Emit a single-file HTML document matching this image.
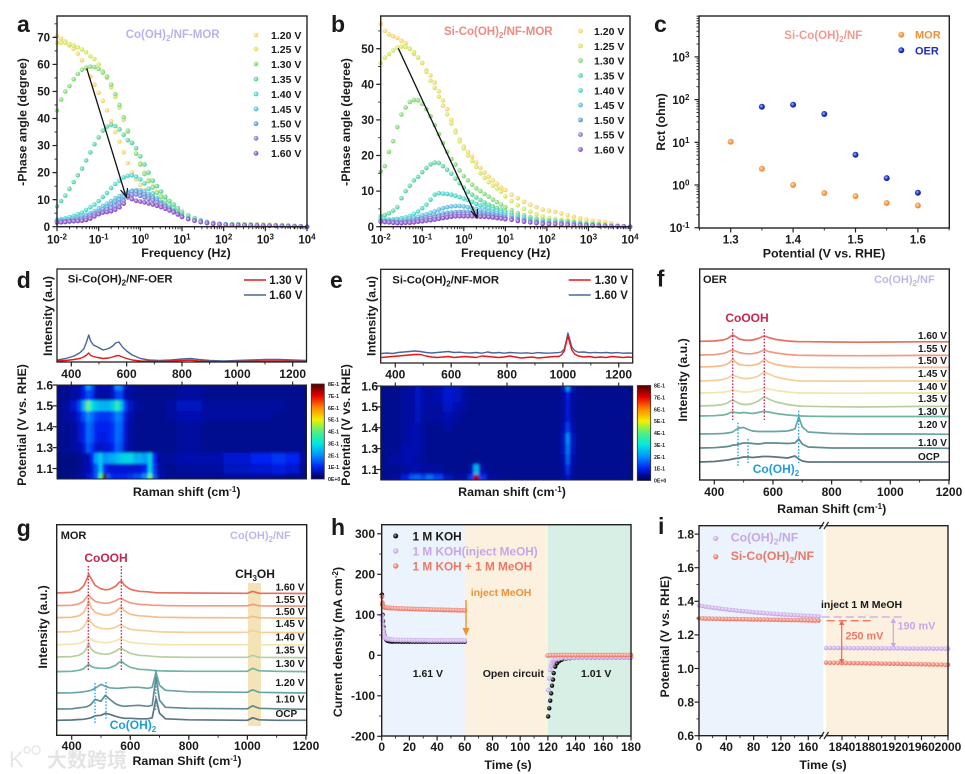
<!DOCTYPE html>
<html lang="en">
<head>
<meta charset="utf-8">
<title>Electrochemical characterisation panels</title>
<style>
html,body{margin:0;padding:0;background:#fff;}
svg{display:block;font-family:"Liberation Sans","Noto Sans CJK SC",sans-serif;font-weight:bold;filter:blur(0.35px);}
text{fill:#1a1a1a;}
</style>
</head>
<body>
<svg xmlns="http://www.w3.org/2000/svg" width="965" height="774" viewBox="0 0 965 774">
<defs>
<radialGradient id="s0" cx=".4" cy=".4" r=".6"><stop offset="0" stop-color="#fff8dc"/><stop offset=".75" stop-color="#f5d36e"/></radialGradient>
<radialGradient id="s1" cx=".4" cy=".4" r=".6"><stop offset="0" stop-color="#f6fbcf"/><stop offset=".75" stop-color="#d3e565"/></radialGradient>
<radialGradient id="s2" cx=".4" cy=".4" r=".6"><stop offset="0" stop-color="#dcf8d8"/><stop offset=".75" stop-color="#86d878"/></radialGradient>
<radialGradient id="s3" cx=".4" cy=".4" r=".6"><stop offset="0" stop-color="#d4f6e6"/><stop offset=".75" stop-color="#5cd2a0"/></radialGradient>
<radialGradient id="s4" cx=".4" cy=".4" r=".6"><stop offset="0" stop-color="#d2f8f2"/><stop offset=".75" stop-color="#48d4c6"/></radialGradient>
<radialGradient id="s5" cx=".4" cy=".4" r=".6"><stop offset="0" stop-color="#d2f0f8"/><stop offset=".75" stop-color="#58bedc"/></radialGradient>
<radialGradient id="s6" cx=".4" cy=".4" r=".6"><stop offset="0" stop-color="#d2e4f6"/><stop offset=".75" stop-color="#5a98d6"/></radialGradient>
<radialGradient id="s7" cx=".4" cy=".4" r=".6"><stop offset="0" stop-color="#dcdcf6"/><stop offset=".75" stop-color="#7a7cd0"/></radialGradient>
<radialGradient id="s8" cx=".4" cy=".4" r=".6"><stop offset="0" stop-color="#e2d0f6"/><stop offset=".75" stop-color="#8850c8"/></radialGradient>
<radialGradient id="orangeDot" cx=".4" cy=".4" r=".6"><stop offset="0" stop-color="#ffe0b8"/><stop offset=".7" stop-color="#f0913a"/></radialGradient>
<radialGradient id="blueDot" cx=".4" cy=".4" r=".6"><stop offset="0" stop-color="#a8b4f8"/><stop offset=".65" stop-color="#1428b8"/></radialGradient>
<radialGradient id="blackDot" cx=".4" cy=".4" r=".6"><stop offset="0" stop-color="#aaaaaa"/><stop offset=".65" stop-color="#0c0c0c"/></radialGradient>
<radialGradient id="lilacDot" cx=".4" cy=".4" r=".6"><stop offset="0" stop-color="#f4ecfc"/><stop offset=".75" stop-color="#c8a6e8"/></radialGradient>
<radialGradient id="redDot" cx=".4" cy=".4" r=".6"><stop offset="0" stop-color="#fde0da"/><stop offset=".75" stop-color="#ee7868"/></radialGradient>
<clipPath id="clip-d"><rect x="57.5" y="385" width="249" height="94"/></clipPath>
<clipPath id="clip-e"><rect x="381" y="386" width="251.5" height="94"/></clipPath>
<filter id="soft" filterUnits="userSpaceOnUse" x="0" y="0" width="965" height="774"><feGaussianBlur stdDeviation="1.4"/></filter>
</defs>

<!-- panel a -->
<g>
<g id="marks-a"></g>
<g id="axes-a"></g>
<rect x="57" y="16" width="250" height="210.7" fill="none" stroke="#222" stroke-width="1.4"/>
<line x1="86.7" y1="68.3" x2="126" y2="196.7" stroke="#111" stroke-width="1.3"/>
<polyline points="120.5,190 126.5,197 127.5,188" fill="none" stroke="#111" stroke-width="1.1"/>
<text x="17" y="32" font-size="23">a</text>
<text x="125.7" y="38" font-size="11.5" style="fill:#b9b4e8">Co(OH)<tspan dy="3" font-size="8">2</tspan><tspan dy="-3">/NF-MOR</tspan></text>
<text x="186" y="257" font-size="12.4" text-anchor="middle">Frequency (Hz)</text>
<text transform="translate(26.5,122) rotate(-90)" font-size="12.3" text-anchor="middle">-Phase angle (degree)</text>
<g font-size="10.5">
<circle cx="256" cy="35" r="2.4" fill="url(#s0)"/><text x="271" y="38.8">1.20 V</text>
<circle cx="256" cy="49" r="2.4" fill="url(#s1)"/><text x="271" y="52.8">1.25 V</text>
<circle cx="256" cy="64" r="2.4" fill="url(#s2)"/><text x="271" y="67.8">1.30 V</text>
<circle cx="256" cy="79" r="2.4" fill="url(#s3)"/><text x="271" y="82.8">1.35 V</text>
<circle cx="256" cy="94" r="2.4" fill="url(#s4)"/><text x="271" y="97.8">1.40 V</text>
<circle cx="256" cy="109" r="2.4" fill="url(#s5)"/><text x="271" y="112.8">1.45 V</text>
<circle cx="256" cy="123.7" r="2.4" fill="url(#s6)"/><text x="271" y="127.5">1.50 V</text>
<circle cx="256" cy="138.3" r="2.4" fill="url(#s7)"/><text x="271" y="142.1">1.55 V</text>
<circle cx="256" cy="153.3" r="2.4" fill="url(#s8)"/><text x="271" y="157.1">1.60 V</text>
</g>
</g>

<!-- panel b -->
<g>
<g id="marks-b"></g>
<g id="axes-b"></g>
<rect x="380.7" y="16" width="249.3" height="210.7" fill="none" stroke="#222" stroke-width="1.4"/>
<line x1="398.3" y1="48.3" x2="476.7" y2="217.3" stroke="#111" stroke-width="1.3"/>
<polyline points="471,211 477,218 477.5,209" fill="none" stroke="#111" stroke-width="1.1"/>
<text x="331" y="32" font-size="23">b</text>
<text x="444" y="35" font-size="11.5" style="fill:#f08a80">Si-Co(OH)<tspan dy="3" font-size="8">2</tspan><tspan dy="-3">/NF-MOR</tspan></text>
<text x="505.7" y="257" font-size="12.4" text-anchor="middle">Frequency (Hz)</text>
<text transform="translate(350,122) rotate(-90)" font-size="12.3" text-anchor="middle">-Phase angle (degree)</text>
<g font-size="10.5">
<circle cx="580.5" cy="31" r="2.4" fill="url(#s0)"/><text x="594" y="34.8">1.20 V</text>
<circle cx="580.5" cy="46" r="2.4" fill="url(#s1)"/><text x="594" y="49.8">1.25 V</text>
<circle cx="580.5" cy="60.5" r="2.4" fill="url(#s2)"/><text x="594" y="64.3">1.30 V</text>
<circle cx="580.5" cy="75.5" r="2.4" fill="url(#s3)"/><text x="594" y="79.3">1.35 V</text>
<circle cx="580.5" cy="90.5" r="2.4" fill="url(#s4)"/><text x="594" y="94.3">1.40 V</text>
<circle cx="580.5" cy="105" r="2.4" fill="url(#s5)"/><text x="594" y="108.8">1.45 V</text>
<circle cx="580.5" cy="120" r="2.4" fill="url(#s6)"/><text x="594" y="123.8">1.50 V</text>
<circle cx="580.5" cy="134.5" r="2.4" fill="url(#s7)"/><text x="594" y="138.3">1.55 V</text>
<circle cx="580.5" cy="149.5" r="2.4" fill="url(#s8)"/><text x="594" y="153.3">1.60 V</text>
</g>
</g>

<!-- panel c -->
<g>
<g id="marks-c"></g>
<g id="axes-c"></g>
<rect x="699" y="16" width="250.3" height="212" fill="none" stroke="#222" stroke-width="1.4"/>
<text x="654" y="32" font-size="23">c</text>
<text x="784.3" y="39" font-size="11.5" style="fill:#f09a90">Si-Co(OH)<tspan dy="3" font-size="8">2</tspan><tspan dy="-3">/NF</tspan></text>
<circle cx="901.3" cy="34.7" r="3" fill="url(#orangeDot)"/>
<text x="915" y="38.7" font-size="11" style="fill:#f0913a">MOR</text>
<circle cx="901.3" cy="50.3" r="3" fill="url(#blueDot)"/>
<text x="915" y="54.3" font-size="11" style="fill:#1a2eb8">OER</text>
<text x="824" y="257.5" font-size="12.4" text-anchor="middle">Potential (V vs. RHE)</text>
<text transform="translate(665,122) rotate(-90)" font-size="12.3" text-anchor="middle">Rct (ohm)</text>
</g>

<!-- panel d -->
<g>
<g id="marks-d"></g>
<g id="axes-d"></g>
<rect x="57" y="269" width="249.5" height="93" fill="none" stroke="#222" stroke-width="1.3"/>
<g clip-path="url(#clip-d)">
<rect x="57" y="385" width="250" height="95" fill="#000a8f"/>
<g id="heat-d" filter="url(#soft)"></g>
</g>
<rect x="57" y="385" width="249.5" height="94" fill="none" stroke="#222" stroke-width="1"/>
<g id="bar-d"></g>
<text x="16.7" y="288" font-size="23">d</text>
<text x="67.7" y="282.7" font-size="11.3">Si-Co(OH)<tspan dy="3" font-size="8">2</tspan><tspan dy="-3">/NF-OER</tspan></text>
<line x1="244" y1="280" x2="266" y2="280" stroke="#dd1c1c" stroke-width="1.6"/>
<text x="269.3" y="284" font-size="11.5">1.30 V</text>
<line x1="244" y1="295" x2="266" y2="295" stroke="#48689a" stroke-width="1.6"/>
<text x="269.3" y="299" font-size="11.5">1.60 V</text>
<text x="186.7" y="496" font-size="12.4" text-anchor="middle">Raman shift (cm<tspan dy="-4" font-size="8">-1</tspan><tspan dy="4">)</tspan></text>
<text transform="translate(52,316) rotate(-90)" font-size="12.3" text-anchor="middle">Intensity (a.u)</text>
<text transform="translate(26,425) rotate(-90)" font-size="12.3" text-anchor="middle">Potential (V vs. RHE)</text>
</g>

<!-- panel e -->
<g>
<g id="marks-e"></g>
<g id="axes-e"></g>
<rect x="380.7" y="269.3" width="252" height="93.7" fill="none" stroke="#222" stroke-width="1.3"/>
<g clip-path="url(#clip-e)">
<rect x="380" y="386" width="253" height="95" fill="#000a8f"/>
<g id="heat-e" filter="url(#soft)"></g>
</g>
<rect x="380.7" y="386" width="252" height="94" fill="none" stroke="#222" stroke-width="1"/>
<g id="bar-e"></g>
<text x="330" y="288" font-size="23">e</text>
<text x="392.3" y="283.3" font-size="11.3">Si-Co(OH)<tspan dy="3" font-size="8">2</tspan><tspan dy="-3">/NF-MOR</tspan></text>
<line x1="568.7" y1="280" x2="590.7" y2="280" stroke="#e8141c" stroke-width="1.6"/>
<text x="594.7" y="284" font-size="11.5">1.30 V</text>
<line x1="568.7" y1="295" x2="590.7" y2="295" stroke="#48689a" stroke-width="1.6"/>
<text x="594.7" y="299" font-size="11.5">1.60 V</text>
<text x="512" y="496" font-size="12.4" text-anchor="middle">Raman shift (cm<tspan dy="-4" font-size="8">-1</tspan><tspan dy="4">)</tspan></text>
<text transform="translate(375.5,316) rotate(-90)" font-size="12.3" text-anchor="middle">Intensity (a.u)</text>
<text transform="translate(350,425) rotate(-90)" font-size="12.3" text-anchor="middle">Potential (V vs. RHE)</text>
</g>

<!-- panel f -->
<g>
<g id="marks-f"></g>
<g id="axes-f"></g>
<rect x="699.7" y="269" width="249.6" height="211" fill="none" stroke="#222" stroke-width="1.4"/>
<g stroke-dasharray="1.6 1.6" stroke-width="1.3" fill="none">
<line x1="732.7" y1="329" x2="732.7" y2="420" stroke="#c8264e"/>
<line x1="764.3" y1="329" x2="764.3" y2="420" stroke="#c8264e"/>
<line x1="738" y1="422.7" x2="738" y2="467" stroke="#1e9fd8"/>
<line x1="748" y1="439" x2="748" y2="463" stroke="#1e9fd8"/>
<line x1="798.7" y1="410.7" x2="798.7" y2="463" stroke="#1e9fd8"/>
</g>
<text x="656.7" y="286.7" font-size="23">f</text>
<text x="703" y="283" font-size="11">OER</text>
<text x="874" y="283" font-size="11" style="fill:#bcb8e8">Co(OH)<tspan dy="3" font-size="8">2</tspan><tspan dy="-3">/NF</tspan></text>
<text x="747" y="322" font-size="12" text-anchor="middle" style="fill:#c8264e">CoOOH</text>
<text x="776" y="473" font-size="12" text-anchor="middle" style="fill:#1e9fd8">Co(OH)<tspan dy="3" font-size="8">2</tspan></text>
<g font-size="10">
<text x="918" y="339">1.60 V</text>
<text x="918" y="352">1.55 V</text>
<text x="918" y="364">1.50 V</text>
<text x="918" y="377">1.45 V</text>
<text x="918" y="390">1.40 V</text>
<text x="918" y="402">1.35 V</text>
<text x="918" y="415">1.30 V</text>
<text x="918" y="428">1.20 V</text>
<text x="918" y="446">1.10 V</text>
<text x="918" y="460">OCP</text>
</g>
<text x="831.7" y="513" font-size="12.4" text-anchor="middle">Raman Shift (cm<tspan dy="-4" font-size="8">-1</tspan><tspan dy="4">)</tspan></text>
<text transform="translate(687,380) rotate(-90)" font-size="12.3" text-anchor="middle">Intensity (a.u.)</text>
</g>

<!-- panel g -->
<g>
<rect x="248" y="583" width="13" height="143" fill="#f5e3b8"/>
<g id="marks-g"></g>
<g id="axes-g"></g>
<rect x="56.7" y="524.7" width="250" height="210.6" fill="none" stroke="#222" stroke-width="1.4"/>
<g stroke-dasharray="1.6 1.6" stroke-width="1.3" fill="none">
<line x1="88.3" y1="566" x2="88.3" y2="671" stroke="#c8264e"/>
<line x1="121.3" y1="566" x2="121.3" y2="671" stroke="#c8264e"/>
<line x1="95" y1="683" x2="95" y2="723" stroke="#1e9fd8"/>
<line x1="106" y1="682" x2="106" y2="720" stroke="#1e9fd8"/>
<line x1="155.7" y1="670" x2="155.7" y2="710" stroke="#1e9fd8"/>
</g>
<text x="16.7" y="536" font-size="23">g</text>
<text x="60.7" y="539" font-size="11">MOR</text>
<text x="230" y="539" font-size="11" style="fill:#bcb8e8">Co(OH)<tspan dy="3" font-size="8">2</tspan><tspan dy="-3">/NF</tspan></text>
<text x="106" y="562" font-size="12" text-anchor="middle" style="fill:#c8264e">CoOOH</text>
<text x="255" y="578" font-size="12" text-anchor="middle">CH<tspan dy="3" font-size="8">3</tspan><tspan dy="-3">OH</tspan></text>
<text x="133" y="729" font-size="12" text-anchor="middle" style="fill:#1e9fd8">Co(OH)<tspan dy="3" font-size="8">2</tspan></text>
<g font-size="10">
<text x="275.5" y="590.5">1.60 V</text>
<text x="275.5" y="603">1.55 V</text>
<text x="275.5" y="615">1.50 V</text>
<text x="275.5" y="627">1.45 V</text>
<text x="275.5" y="640.5">1.40 V</text>
<text x="275.5" y="653.5">1.35 V</text>
<text x="275.5" y="667">1.30 V</text>
<text x="275.5" y="686">1.20 V</text>
<text x="275.5" y="702.5">1.10 V</text>
<text x="275.5" y="717">OCP</text>
</g>
<text x="187" y="765" font-size="12.4" text-anchor="middle">Raman Shift (cm<tspan dy="-4" font-size="8">-1</tspan><tspan dy="4">)</tspan></text>
<text transform="translate(47,627) rotate(-90)" font-size="12.3" text-anchor="middle">Intensity (a.u.)</text>
</g>

<!-- panel h -->
<g>
<rect x="381.7" y="524.7" width="83.1" height="211.3" fill="#ebf4fc"/>
<rect x="464.8" y="524.7" width="83.1" height="211.3" fill="#fbf1de"/>
<rect x="547.9" y="524.7" width="83.1" height="211.3" fill="#d8efe5"/>
<g id="marks-h"></g>
<g id="axes-h"></g>
<rect x="381.7" y="524.7" width="249.3" height="211.3" fill="none" stroke="#222" stroke-width="1.4"/>
<text x="331" y="535" font-size="23">h</text>
<circle cx="395.7" cy="536" r="2.5" fill="url(#blackDot)"/>
<text x="412.5" y="540.5" font-size="11.8">1 M KOH</text>
<circle cx="395.7" cy="551" r="2.7" fill="url(#lilacDot)"/>
<text x="412.5" y="555.5" font-size="11.8" style="fill:#c8a6e8">1 M KOH(inject MeOH)</text>
<circle cx="395.7" cy="566" r="2.7" fill="url(#redDot)"/>
<text x="412.5" y="570.5" font-size="11.8" style="fill:#ee7868">1 M KOH + 1 M MeOH</text>
<text x="470.7" y="596" font-size="10.5" style="fill:#f0913a">inject MeOH</text>
<line x1="466" y1="600" x2="466" y2="630" stroke="#f0913a" stroke-width="1.4"/>
<polygon points="462.5,628 469.5,628 466,636" fill="#f0913a"/>
<text x="412.7" y="677" font-size="10.5">1.61 V</text>
<text x="482.7" y="677" font-size="10.5">Open circuit</text>
<text x="581" y="677" font-size="10.5">1.01 V</text>
<text x="508" y="769" font-size="12.4" text-anchor="middle">Time (s)</text>
<text transform="translate(342,642) rotate(-90)" font-size="12.3" text-anchor="middle">Current density (mA cm<tspan dy="-4" font-size="8">-2</tspan><tspan dy="4">)</tspan></text>
</g>

<!-- panel i -->
<g>
<rect x="699" y="525.7" width="124.3" height="210" fill="#ebf4fc"/>
<rect x="826" y="525.7" width="122" height="210" fill="#fbf1de"/>
<g id="marks-i"></g>
<g id="axes-i"></g>
<polyline points="823.3,525.7 699,525.7 699,735.7 823.3,735.7" fill="none" stroke="#222" stroke-width="1.4"/>
<polyline points="826,525.7 948,525.7 948,735.7 826,735.7" fill="none" stroke="#222" stroke-width="1.4"/>
<g stroke="#222" stroke-width="1.2">
<line x1="819.5" y1="529" x2="824" y2="522"/>
<line x1="824" y1="529" x2="828.5" y2="522"/>
<line x1="819.5" y1="739" x2="824" y2="732"/>
<line x1="824" y1="739" x2="828.5" y2="732"/>
</g>
<text x="658" y="534" font-size="23">i</text>
<circle cx="715.7" cy="538.3" r="2.6" fill="url(#lilacDot)"/>
<text x="730.7" y="541.7" font-size="12.3" style="fill:#c8a6e8">Co(OH)<tspan dy="3" font-size="8.5">2</tspan><tspan dy="-3">/NF</tspan></text>
<circle cx="715.7" cy="556.7" r="2.6" fill="url(#redDot)"/>
<text x="730.7" y="560" font-size="12.3" style="fill:#ee7868">Si-Co(OH)<tspan dy="3" font-size="8.5">2</tspan><tspan dy="-3">/NF</tspan></text>
<text x="821" y="608" font-size="10.5">inject 1 M MeOH</text>
<line x1="821.7" y1="617" x2="905" y2="617" stroke="#c8a6e8" stroke-width="1.3" stroke-dasharray="8 4"/>
<line x1="826.7" y1="620.7" x2="873.3" y2="620.7" stroke="#ee7868" stroke-width="1.3" stroke-dasharray="8 4"/>
<line x1="841.7" y1="622" x2="841.7" y2="662" stroke="#ee6858" stroke-width="1.2"/>
<polygon points="839,625 844.4,625 841.7,620" fill="#ee6858"/>
<polygon points="839,659 844.4,659 841.7,664" fill="#ee6858"/>
<line x1="893.3" y1="619" x2="893.3" y2="646" stroke="#c8a6e8" stroke-width="1.2"/>
<polygon points="890.6,623 896,623 893.3,618" fill="#c8a6e8"/>
<polygon points="890.6,643 896,643 893.3,648" fill="#c8a6e8"/>
<text x="845.5" y="639.5" font-size="10.8" style="fill:#ee7868">250 mV</text>
<text x="897.5" y="629.5" font-size="10.8" style="fill:#c8a6e8">190 mV</text>
<text x="823" y="769" font-size="12.4" text-anchor="middle">Time (s)</text>
<text transform="translate(669,636.7) rotate(-90)" font-size="12.3" text-anchor="middle">Potential (V vs. RHE)</text>
</g>

<!-- watermark -->
<g opacity=".85">
<text x="9" y="767" font-size="22" font-weight="normal" style="fill:#e2e2e2">K</text>
<circle cx="27" cy="750" r="3" fill="none" stroke="#e2e2e2" stroke-width="1.4"/>
<circle cx="36" cy="750" r="4" fill="none" stroke="#e2e2e2" stroke-width="1.4"/>
<text x="47" y="767" font-size="20" style="fill:#e0e0e0">大数跨境</text>
</g>
</svg>

<script>
/* ---------- panel a / b : shared frequency grid (log10 Hz) ---------- */
const logFreq = [-2,-1.9,-1.8,-1.7,-1.6,-1.5,-1.4,-1.3,-1.2,-1.1,-1,-0.9,-0.8,-0.7,-0.6,-0.5,-0.4,-0.3,-0.2,-0.1,0,0.1,0.2,0.3,0.4,0.5,0.6,0.7,0.8,0.9,1,1.15,1.3,1.45,1.6,1.75,1.9,2.05,2.2,2.35,2.5,2.65,2.8,2.95,3.1,3.25,3.4,3.55,3.7,3.85,4];
const voltageNames = ['120','125','130','135','140','145','150','155','160'];
const a120 = [70.5,69.5,68.5,67,65.8,64,61.5,58.5,55.5,52.5,49.5,46.5,43,39,35,31.5,27.5,23.5,20,17.5,15.5,13.5,12.2,11,10,9,8,7,6,5.2,4.4,3.5,2.7,2.1,1.6,1.3,1,.9,.9,.9,.9,.8,.8,.8,.7,.7,.6,.5,.3,.1,0];
const a125 = [68,68,68,67.5,67,66.3,65.5,64.5,63,62,60,57.5,55,51.5,48,44,39.5,35,31,27,23.5,20,17.3,15,13,11.3,10,8.7,7.5,6.2,5,3.8,3,2.2,1.7,1.3,1,.9,.9,.9,.8,.8,.8,.7,.7,.6,.6,.5,.3,.1,0];
const a130 = [43,47,50,52,54.5,56.5,58,58.8,59.2,59,58.3,57,55.5,52.5,49,45,40.5,35.5,31,27,23,19.5,16.8,14.5,12.5,11,9.6,8.2,7,5.8,4.8,3.7,2.9,2.2,1.6,1.3,1,.9,.9,.9,.8,.8,.7,.6,.6,.5,.5,.4,.3,.1,0];
const a135 = [7.5,9.5,11.5,14,16.5,19,21.5,24.5,27.5,30.5,33,35.5,37,37.7,37.2,36,34,32,31,29,26,23,20,17,15,13,11,9.5,8.2,6.8,5.5,4.2,3.2,2.4,1.8,1.4,1.1,.9,.8,.8,.7,.7,.6,.6,.5,.5,.4,.3,.2,.1,0];
const a140 = [2.6,2.8,3.1,3.5,4,4.6,5.2,6.2,7.2,8.2,9.5,11,12.5,14.3,15.8,17,18.2,18.8,19,18.5,17.5,16,14,12.3,10.5,9.2,8,7,6,5,4,3.2,2.5,2,1.5,1.2,1,.9,.8,.8,.7,.7,.6,.5,.5,.4,.3,.3,.2,.1,0];
const a145 = [2.2,2.3,2.5,2.7,3,3.4,3.8,4.4,5,5.8,6.8,7.7,8.5,9.5,10.5,11.3,12.2,12.9,13.3,13.5,13.4,13,12,11,10,8.9,7.9,6.9,5.9,4.9,3.9,3.1,2.4,1.9,1.5,1.2,.9,.8,.7,.7,.7,.6,.5,.5,.4,.4,.3,.2,.1,.1,0];
const a150 = [2,2,2.2,2.3,2.6,2.9,3.2,3.7,4.3,4.9,5.6,6.5,7.3,8.2,9.2,10,11,12.2,13,13.1,12.7,12,11.3,10.7,9.6,8.6,7.6,6.6,5.7,4.7,3.8,3,2.3,1.8,1.4,1.1,.9,.8,.7,.7,.6,.6,.5,.4,.4,.3,.3,.2,.1,.1,0];
const a155 = [1.8,1.9,1.9,2,2.2,2.4,2.7,3.1,3.7,4.5,5,5.5,6.3,6.9,7.6,8.6,9.6,10.8,11.7,11.9,11.4,10.8,10.3,9.8,9,8.2,7.4,6.5,5.6,4.6,3.7,2.9,2.3,1.8,1.4,1.1,.9,.7,.7,.6,.6,.5,.4,.4,.3,.3,.2,.2,.1,.1,0];
const a160 = [1.5,1.6,1.7,1.9,2,2.1,2.2,2.5,3,3.8,4.6,5.2,5.4,5.7,6.3,7.2,8.5,11.3,10.2,9.6,9.3,9,8.6,8.2,7.7,7.2,6.6,6,5.3,4.5,3.6,2.8,2.2,1.7,1.3,1,.8,.7,.6,.6,.5,.5,.4,.4,.3,.3,.2,.2,.1,.1,0];
const b120 = [57,55,54,53.5,53,52.2,51.5,50,48.5,47.5,46,44,42.5,40.5,38,35.5,33,30,27,24.5,22.5,21,19.7,18,16.5,15.2,14,13,12,11,10.3,9,8,7,6.2,5.5,4.8,4.5,4.2,3.7,3.2,2.8,2.4,2,1.7,1.5,1.3,1,.5,.1,0];
const b125 = [46,47.5,48.5,49.5,50.3,50.6,50.5,50,49,47.5,46,43.5,41,39,36.5,34,31.5,29,26.5,24,22,20,18.5,16.8,15,13.7,12.5,11.5,10.7,9.8,8.5,7.2,6,5,4.2,3.5,2.9,2.4,2.2,2,1.8,1.6,1.4,1.2,1,.9,.7,.4,.2,.1,0];
const b130 = [15.5,17,21,24,28,31.5,33.5,35,35.6,35.5,34.5,33,31,28.5,26,23.5,21,19,17.5,15.8,14.2,13,11.8,10.8,10,9.2,8.4,7.6,6.9,6.2,5.5,4.6,3.8,3.2,2.7,2.3,2,1.8,1.7,1.6,1.5,1.3,1.1,.9,.8,.7,.5,.3,.2,.1,0];
const b135 = [3,3.3,3.8,4.5,5.5,8,10,11.5,13,14,15.3,16.5,17.5,18,17.9,17,16,14.9,13.5,12.2,11,9.8,9,8.2,7.5,6.8,6.2,5.7,5.2,4.8,4.3,3.7,3.1,2.6,2.2,1.9,1.6,1.5,1.4,1.3,1.2,1.1,.9,.8,.7,.5,.4,.3,.1,.1,0];
const b140 = [2.2,2.1,2,2.1,2.2,2.4,2.6,3,3.6,4.3,5.2,6.2,7.6,9,9.4,9.3,9.2,9,8.7,8.3,7.9,7.5,7,6.4,6,5.6,5.2,4.9,4.5,4.1,3.7,3.2,2.7,2.3,1.9,1.6,1.4,1.3,1.2,1.1,1,.9,.8,.7,.6,.4,.3,.2,.1,.1,0];
const b145 = [1.8,1.7,1.7,1.7,1.8,1.9,2,2.2,2.5,2.8,3.2,3.5,3.9,4.3,4.8,5.2,5.5,5.7,5.8,5.8,5.7,5.5,5.2,5,4.7,4.5,4.2,4,3.8,3.5,3.2,2.8,2.4,2,1.7,1.4,1.2,1.1,1,1,.9,.8,.7,.6,.5,.4,.3,.2,.1,.1,0];
const b150 = [1.6,1.5,1.5,1.4,1.4,1.4,1.6,1.7,1.9,2.1,2.4,2.6,2.9,3.1,3.4,3.7,3.9,4,4.1,4.2,4.2,4.1,4.1,4,3.8,3.7,3.5,3.4,3.2,3,2.7,2.4,2.1,1.8,1.5,1.3,1.1,1,.9,.9,.8,.7,.6,.5,.4,.3,.2,.2,.1,.1,0];
const b155 = [1.5,1.4,1.3,1.2,1.2,1.2,1.3,1.4,1.6,1.8,2,2.2,2.4,2.6,2.8,3,3.2,3.4,3.5,3.6,3.6,3.6,3.5,3.5,3.3,3.2,3.1,2.9,2.7,2.5,2.4,2.1,1.9,1.6,1.3,1.2,1,.9,.8,.8,.7,.6,.5,.4,.3,.3,.2,.1,.1,.1,0];
const b160 = [1.4,1.3,1.2,1.1,1,1,1.1,1.1,1.2,1.4,1.5,1.7,1.8,2,2.2,2.4,2.6,2.8,2.9,2.9,2.9,2.9,2.9,2.9,2.8,2.8,2.7,2.6,2.4,2.3,2.1,1.9,1.6,1.4,1.2,1,.8,.7,.7,.6,.5,.5,.4,.3,.3,.2,.2,.1,.1,.1,0];
const freqExpTicks = ['-2','-1','0','1','2','3','4'];
const aYTicks = [0,10,20,30,40,50,60,70];
const bYTicks = [0,10,20,30,40,50];

/* ---------- panel c ---------- */
const morPotential = [1.3,1.35,1.4,1.45,1.5,1.55,1.6];
const morRct = [10.3,2.4,1.0,0.65,0.55,0.38,0.33];
const oerPotential = [1.35,1.4,1.45,1.5,1.55,1.6];
const oerRct = [68,76,46,5.1,1.45,0.66];
const cXTicks = [1.3,1.4,1.5,1.6];
const cYExpTicks = [-1,0,1,2,3];

/* ---------- panel d spectra ---------- */
const dShift = [350,380,410,430,445,455,463,470,480,495,515,535,550,560,572,585,600,620,650,680,720,760,800,830,860,900,950,1000,1050,1100,1150,1200,1250];
const d160 = [2,3.5,6,9,13,20,27,21,17,15,12,13.5,16,19,20,15,11,7,3.5,2,1.5,2,3,3.5,2.5,1.5,1,1.5,2,2.5,2.5,2,1.5];
const d130 = [1,1.5,2.5,3.5,5,7,9,6.5,5.5,4.5,3.5,4,5,6,6.5,5,3.5,2,1,.8,.5,1,1.5,1.8,1,.5,.3,.5,.8,1,1,.8,.5];
const ramanTopTicks = [400,600,800,1000,1200];
const potentialRowLabels = ['1.6','1.5','1.4','1.3','1.1'];
const potentialRowIndex = [0,2,4,6,8];

/* ---------- panel d heatmap: rows top to bottom are 1.60 1.55 1.50 1.45 1.40 1.35 1.30 1.20 1.10 OCP ---------- */
const heatColsD = [350,380,410,430,445,460,475,490,505,520,535,550,565,580,595,610,640,670,685,700,720,760,800,840,900,1000,1100,1150,1200,1250];
const heatRowsD = [
[.04,.04,.05,.06,.1,.22,.15,.06,.06,.06,.06,.08,.2,.18,.07,.05,.04,.04,.04,.04,.04,.04,.05,.05,.04,.04,.04,.04,.04,.04],
[.04,.04,.05,.06,.09,.14,.12,.06,.05,.05,.05,.07,.13,.13,.06,.05,.04,.04,.04,.04,.04,.04,.05,.05,.04,.04,.04,.04,.04,.04],
[.04,.05,.08,.13,.24,.42,.3,.26,.24,.24,.24,.27,.36,.27,.13,.07,.05,.04,.04,.04,.04,.05,.07,.07,.05,.05,.05,.05,.04,.04],
[.04,.05,.06,.09,.14,.2,.17,.13,.12,.12,.12,.14,.19,.17,.09,.06,.04,.04,.04,.04,.04,.05,.06,.06,.05,.05,.05,.04,.04,.04],
[.04,.04,.05,.07,.1,.17,.15,.1,.1,.1,.1,.12,.17,.16,.08,.05,.04,.04,.04,.04,.04,.04,.05,.05,.04,.04,.04,.04,.04,.04],
[.04,.04,.05,.07,.1,.17,.15,.1,.09,.09,.1,.12,.17,.15,.08,.05,.04,.04,.04,.04,.04,.04,.05,.05,.04,.04,.04,.04,.04,.04],
[.04,.04,.05,.06,.08,.15,.12,.08,.07,.08,.08,.1,.16,.14,.07,.05,.04,.04,.04,.04,.04,.04,.05,.05,.04,.04,.04,.04,.04,.04],
[.03,.03,.03,.04,.05,.06,.1,.22,.27,.2,.22,.23,.25,.27,.28,.28,.24,.22,.28,.1,.05,.05,.06,.06,.06,.08,.1,.12,.1,.05],
[.03,.03,.03,.04,.05,.06,.08,.15,.26,.12,.08,.08,.08,.08,.08,.08,.08,.1,.28,.12,.05,.04,.05,.05,.05,.07,.08,.09,.08,.04],
[.03,.03,.04,.05,.06,.08,.1,.15,.4,.8,.15,.1,.1,.1,.1,.12,.14,.2,.42,.15,.06,.04,.04,.04,.04,.05,.05,.05,.04,.04]
];

/* ---------- panel e spectra ---------- */
const eShift = [350,370,390,410,430,450,470,490,510,530,550,570,590,610,630,650,670,690,710,730,750,770,790,810,830,850,870,890,910,930,950,970,985,995,1005,1012,1018,1024,1032,1042,1055,1075,1095,1115,1135,1155,1175,1195,1215,1235,1250];
const e160 = [9.5,10,9.5,10.5,11,11.5,12,11.5,10.5,10,10.5,11,11.5,10.5,10.8,10.2,10,10.5,9.8,11,10,10.5,9.8,10.5,10.2,9.8,10.2,9.6,10.4,10,9.8,10.2,10.4,11,14,22,30,24,16,12.5,10.8,11,10.2,10.6,10.2,10.5,10,10.4,9.8,10,9.8];
const e130 = [5.5,6,6.5,7,7.5,8,8.5,8.5,7,6,5.5,6,6.5,5.5,6,6.5,6,5.5,7,6.5,6,5.5,6,7,6,5,5.5,6,5,5.5,6,6.5,6.5,8,12,20,27,21,13,9,7,6,6.5,5.5,6,5.5,6.5,6,5.5,6,5.5];

/* ---------- panel e heatmap ---------- */
const heatColsE = [350,400,440,460,480,500,520,550,590,620,650,670,690,710,740,800,900,980,1005,1018,1030,1060,1150,1250];
const heatRowsE = [
[.04,.04,.05,.05,.07,.06,.05,.06,.08,.07,.05,.04,.04,.04,.04,.04,.04,.04,.07,.22,.07,.04,.04,.04],
[.04,.04,.05,.05,.07,.06,.05,.06,.08,.07,.05,.04,.04,.04,.04,.04,.04,.04,.05,.1,.05,.04,.04,.04],
[.04,.04,.05,.05,.07,.06,.05,.05,.07,.06,.05,.04,.04,.04,.04,.04,.04,.04,.05,.09,.05,.04,.04,.04],
[.04,.04,.05,.05,.07,.05,.05,.05,.06,.05,.04,.04,.04,.04,.04,.04,.04,.04,.05,.09,.05,.04,.04,.04],
[.04,.04,.05,.06,.06,.05,.04,.04,.05,.04,.04,.04,.04,.04,.04,.04,.04,.04,.06,.13,.06,.04,.04,.04],
[.04,.04,.05,.06,.06,.05,.04,.04,.04,.04,.04,.04,.04,.04,.04,.04,.04,.04,.07,.2,.07,.04,.04,.04],
[.04,.04,.06,.06,.06,.05,.04,.04,.04,.04,.04,.04,.04,.04,.04,.04,.04,.04,.07,.18,.07,.04,.04,.04],
[.04,.05,.06,.06,.05,.05,.04,.04,.04,.04,.04,.04,.04,.04,.04,.04,.04,.04,.06,.16,.06,.04,.04,.04],
[.04,.04,.05,.06,.06,.05,.05,.05,.04,.04,.04,.06,.24,.06,.04,.04,.04,.04,.05,.12,.05,.04,.04,.04],
[.04,.05,.09,.15,.16,.13,.17,.13,.07,.05,.05,.12,.75,.12,.05,.04,.04,.04,.05,.08,.05,.04,.04,.04]
];
const colorbarLabels = ['8E-1','7E-1','6E-1','5E-1','4E-1','3E-1','2E-1','1E-1','0E+0'];
const colorStops = [0,.04,.1,.2,.3,.4,.5,.6,.7,.8];
const colorHexes = ['#00005a','#000a8f','#0020f0','#0090ff','#00e8e0','#50f080','#f0f000','#ff8800','#e80000','#500000'];

/* ---------- panel f ---------- */
const fShift = [350,400,430,445,455,463,472,485,500,515,530,550,565,572,585,610,650,675,688,700,720,800,900,1000,1100,1200];
const fOcp = [18,18.5,19.5,20,20.5,21,21.5,22,23,23,22.5,23,23.5,23.5,23.5,23,22,24,21,19,18,18,18,18,18,18];
const f110 = [32,32.3,33,33.5,34,35,35,36,37,37,36.5,36,36.5,37,37,37,36.5,37,41,36,33,32,32,32,32,31.7];
const f120 = [46,46.2,46.5,47,47.5,48,50,52,52.5,50.5,49,48.5,48.5,48.5,48.5,48.5,49,51,63,53,48,46.5,46,46,46,45.7];
const f130 = [64,64.3,65,66,67.5,68,67.5,67,67.5,67,66.5,67.5,68.5,68.5,68,66.5,65,64.5,64,64,63.8,63.5,63.5,63.5,63.5,63.5];
const f135 = [74,74.5,75.5,77,79,80,78.5,76.5,75.5,75.5,76.5,79,82,83,81,78,75.5,74.5,74,73.8,73.7,73.3,73,73.3,73.6,73.7];
const f140 = [87,87.3,87.8,88.5,89.5,90,89.5,88.5,88,88,88.5,90,91.5,92,91,89.5,88,87.3,87,87,87,86.9,86.9,87,87,87];
const f145 = [99,99.5,100.5,102,103.5,105,104,102.5,101.5,101.5,102,104,107,108,106,103,100.5,99.5,99.2,99,99,98.9,98.9,99,99,99];
const f150 = [113,113.5,114.5,116,118.5,121.5,118,115.5,114.8,114.5,114.7,116,119,121,118,115.5,113.5,113,112.8,112.7,112.7,112.5,112.4,112.5,112.6,112.6];
const f155 = [125,125.3,126.5,128,129.5,130,129,127.5,126.5,126.2,126.3,127.5,129.5,130,128.5,127,125.5,125,124.7,124.7,124.6,124.4,124.3,124.4,124.6,124.6];
const f160 = [138.7,139,140,141.5,143.5,145,143.5,141,140,139.7,140,141.5,143.5,144,142.5,140.5,139,138.5,138.3,138.3,138.3,138,137.8,138,138.2,138.2];
const ramanWideTicks = [400,600,800,1000,1200];
const ramanSeriesColors = ['#5d7580','#5f8c90','#6aa5a5','#6fb5a0','#b5cfa0','#f5e3b0','#f5cf9a','#f5bd8a','#f29a82','#e87060'];
const ramanSeriesNames = ['ocp','110','120','130','135','140','145','150','155','160'];

/* ---------- panel g ---------- */
const gShift = [350,400,425,440,450,458,466,480,500,515,530,550,562,570,580,600,630,660,675,688,700,720,800,1000,1018,1040,1100,1200];
const gOcp = [15,15.3,15.8,16,16.5,17,17.5,19.5,20,22,21,19,18,17.5,17,17,16.5,16.5,17.5,37,22,16.5,15.5,15,17.5,15.5,15,15];
const g110 = [26.3,26.5,27.5,28,28.5,29.5,31,36,34,40,36,31.5,30,29.5,29,29.5,30,29,30,58,35,28,27,26.5,29.5,27,26.5,26];
const g120 = [42.3,42.5,43,43.5,44,44.5,45,47,51,49,47.5,47,47,47.3,47.5,48,48,47,48,63,50,45,43.5,43,45.5,43,42.7,42.3];
const g130 = [63.7,64,65,66.5,69,71,69,67.5,67,67,67.5,70,73,74,71.5,68,66,65.5,65,64.7,64.5,64.3,64,64,67,64.5,64,63.7];
const g135 = [78.3,78.7,80,82.5,86.5,92,86.5,83,81.5,81,81.5,84,86.5,87,85,82,80,79.5,79,78.7,78.5,78.3,78,78,80,78,77.8,77.7];
const g140 = [90.7,91,92,93.5,96,98.5,96,94,93,92.5,93,94.5,96,96.7,95,93,92,91.5,91,91,90.7,90.7,90.5,90.5,92,90.5,90.5,90.5];
const g145 = [103.3,103.7,105,108,113,118,113,109,107,106.5,106.5,108,110,110.5,108.5,106,105,104.5,104,103.7,103.5,103.3,103,103,105,103,102.8,102.7];
const g150 = [117.7,118,119.5,122.5,128,134.5,128,123,121,120,120.5,123,127,128.5,124.5,121,119.5,119,118.5,118.3,118,118,117.7,117.5,119,117.5,117.3,117.2];
const g155 = [129.7,130,131.5,134,138,140.5,137.5,134,132.5,132,132.5,134.5,136.5,137,135,132.5,131,130.5,130,130,130,129.7,129.5,129.5,131,129.5,129.3,129.2];
const g160 = [142.3,143,145,149,155,161,157,150,146.5,145.5,146,149,153,154.5,150,146,144,143.5,143,142.5,142.5,142.5,142.3,142,144,142,142,141.8];

/* ---------- panel h ---------- */
const hTimeOn = [0.2,0.4,0.7,1,1.3,1.6,2,2.5,3,3.5,4,5,6,7,8,10,12,14,16,18,20,22,24,26,28,30,32,34,36,38,40,42,44,46,48,50,52,54,56,58,60];
const hKohOn = [150,125,100,85,70,58,50,44,40,38,36,35,34.5,34,34,34,34,33.5,33.5,33.5,33.5,33.5,33.5,33.5,33.5,33.5,33.5,33.5,33.5,33.5,33.5,33.5,33.5,33.5,33.5,33.5,33.5,33.5,33.5,33.5,33.5];
const hInjectOn = [98,86,76,66,58,52,47,44,42,41,40.5,40,39.5,39,38.5,38,38,37.5,37.5,37.5,37.5,37,37,37,37,37,37,36.5,36.5,36.5,36.5,36.5,36.5,36.5,36.5,36.5,36.5,36.5,36.5,36.5,36.5];
const hMixOn = [145,130,125,122,120,119,118.5,118,118,117.5,117.5,117,117,116.5,116.5,116,115.5,115.5,115,115,114.5,114.5,114,114,113.5,113.5,113.5,113,113,112.5,112.5,112.5,112,112,112,111.5,111.5,111.5,111,111,111];
const hTimeOff = [120.2,121,121.7,122.4,123,123.7,124.2,125.3,126.5,128,130,133,136,139,142,145,148,151,154,157,160,163,166,169,172,175,178,180];
const hKohOff = [-151,-131,-112,-94,-75,-60,-44,-28,-20,-15,-11,-8,-7,-6.5,-6,-6,-6,-6,-6,-6,-6,-6,-6,-6,-6,-6,-6,-6];
const hInjectOff = [-86,-57,-36,-26,-20,-15,-12,-10,-9,-8,-7,-6.5,-6,-6,-5.5,-5.5,-5.5,-5.5,-5.5,-5.5,-5.5,-5.5,-5.5,-5.5,-5.5,-5.5,-5.5,-5.5];
const hMixTime = [120,122,124,126,128,130,132,134,136,138,140,142,144,146,148,150,152,154,156,158,160,162,164,166,168,170,172,174,176,178,180];
const hMixOff = [-.5,0,0,.5,.5,.5,.5,.5,.5,.5,.5,.5,.5,.5,.5,.5,.5,.5,.5,.5,.5,.5,.5,.5,.5,.5,.5,.5,.5,.5,.5];
const hXTicks = [0,20,40,60,80,100,120,140,160,180];
const hYTicks = [-200,-100,0,100,200,300];

/* ---------- panel i ---------- */
const iTimeBefore = [0,5,10,15,20,25,30,35,40,45,50,55,60,65,70,75,80,85,90,95,100,105,110,115,120,125,130,135,140,145,150,155,160,165,170,175];
const iCobaltBefore = [1.375,1.372,1.368,1.365,1.362,1.36,1.357,1.354,1.352,1.349,1.347,1.345,1.343,1.341,1.339,1.337,1.335,1.333,1.332,1.33,1.328,1.327,1.325,1.324,1.322,1.321,1.32,1.319,1.318,1.316,1.315,1.314,1.313,1.312,1.311,1.31];
const iSiliconBefore = [1.298,1.298,1.297,1.297,1.296,1.296,1.296,1.295,1.295,1.294,1.294,1.294,1.293,1.293,1.293,1.292,1.292,1.292,1.291,1.291,1.291,1.29,1.29,1.29,1.289,1.289,1.289,1.288,1.288,1.288,1.287,1.287,1.286,1.286,1.285,1.285];
const iTimeAfter = [1816,1822,1828,1834,1840,1846,1852,1858,1864,1870,1876,1882,1888,1894,1900,1906,1912,1918,1924,1930,1936,1942,1948,1954,1960,1966,1972,1978,1984,1990,1996,2000];
const iCobaltAfter = [1.122,1.122,1.122,1.122,1.122,1.122,1.121,1.121,1.121,1.121,1.121,1.121,1.12,1.12,1.12,1.12,1.12,1.12,1.12,1.12,1.119,1.119,1.119,1.119,1.119,1.119,1.119,1.118,1.118,1.118,1.118,1.118];
const iSiliconAfter = [1.035,1.034,1.034,1.034,1.033,1.033,1.032,1.032,1.032,1.031,1.031,1.03,1.03,1.03,1.029,1.029,1.028,1.028,1.028,1.027,1.027,1.026,1.026,1.026,1.025,1.025,1.024,1.024,1.023,1.023,1.022,1.022];
const iXTicksBefore = [0,40,80,120,160];
const iXTicksAfter = [1840,1880,1920,1960,2000];
const iYTicks = [0.6,0.8,1.0,1.2,1.4,1.6,1.8];

/* ---------- helpers ---------- */
const NS = 'http://www.w3.org/2000/svg';
function mk(tag, parent, attrs, name) {
  const el = document.createElementNS(NS, tag);
  for (const k in attrs) el.setAttribute(k, attrs[k]);
  
  
  parent.appendChild(el);
  return el;
}
const $ = id => document.getElementById(id);
function tick(g, x1, y1, x2, y2, w, name) {
  return mk('line', g, {x1, y1, x2, y2, stroke: '#222', 'stroke-width': w}, name);
}
function label(g, x, y, anchor, str, fs, name) {
  const t = mk('text', g, {x, y, 'text-anchor': anchor, 'font-size': fs}, name);
  t.textContent = str;
  return t;
}
function powerLabel(g, x, y, anchor, exp, fs, name) {
  const t = mk('text', g, {x, y, 'text-anchor': anchor, 'font-size': fs}, name);
  t.appendChild(document.createTextNode('10'));
  const s = document.createElementNS(NS, 'tspan');
  s.setAttribute('dy', '-4');
  s.setAttribute('font-size', '8');
  s.textContent = exp;
  t.appendChild(s);
  return t;
}
function dots(g, sx, sy, xs, ys, fill, r, name) {
  ys.forEach((v, i) => {
    mk('circle', g, {cx: sx(xs[i]), cy: sy(v), r, fill: fill}, name);
  });
}
function curve(g, sx, sy, xs, ys, color, w, name) {
  const pts = ys.map((v, i) => sx(xs[i]).toFixed(2) + ',' + sy(v).toFixed(2)).join(' ');
  mk('polyline', g, {points: pts, fill: 'none', stroke: color, 'stroke-width': w, 'stroke-linejoin': 'round'}, name);
}
function logXAxis(g, sx, y, labelY, exps) {
  exps.forEach((e, i) => {
    const d = Number(e), px = sx(d);
    tick(g, px, y, px, y + 4.5, 1.2, 'x-tick');
    powerLabel(g, px, labelY, 'middle', e, 11.5, 'x-tick-label');
    if (i < exps.length - 1) {
      for (let k = 2; k < 10; k++) {
        const m = sx(d + Math.log10(k));
        tick(g, m, y, m, y + 2.5, 0.9, 'x-minor-tick');
      }
    }
  });
}
function linXAxis(g, sx, y, labelY, vals, fs, fmt, minorStep, minorFrom, minorTo) {
  vals.forEach(v => {
    tick(g, sx(v), y, sx(v), y + 4.5, 1.2, 'x-tick');
    label(g, sx(v), labelY, 'middle', fmt ? fmt(v) : String(v), fs, 'x-tick-label');
  });
  if (minorStep) {
    for (let v = minorFrom; v <= minorTo + 1e-9; v += minorStep) {
      tick(g, sx(v), y, sx(v), y + 2.5, 0.9, 'x-minor-tick');
    }
  }
}
function linYAxis(g, sy, x, labelX, vals, fs, fmt, minorStep, minorFrom, minorTo) {
  vals.forEach(v => {
    tick(g, x, sy(v), x - 4.5, sy(v), 1.2, 'y-tick');
    label(g, labelX, sy(v) + fs * 0.36, 'end', fmt ? fmt(v) : String(v), fs, 'y-tick-label');
  });
  if (minorStep) {
    for (let v = minorFrom; v <= minorTo + 1e-9; v += minorStep) {
      tick(g, x, sy(v), x - 2.5, sy(v), 0.9, 'y-minor-tick');
    }
  }
}
function colorFor(v) {
  const c = Math.max(0, Math.min(.8, v));
  let i = 0;
  while (i < colorStops.length - 2 && c > colorStops[i + 1]) i++;
  const t = (c - colorStops[i]) / (colorStops[i + 1] - colorStops[i]);
  const a = colorHexes[i], b = colorHexes[i + 1];
  const ch = s => [1, 3, 5].map(k => parseInt(s.substr(k, 2), 16));
  const A = ch(a), B = ch(b);
  return 'rgb(' + A.map((q, j) => Math.round(q + (B[j] - q) * t)).join(',') + ')';
}
function heatmap(g, cols, rows, sx, rowY, name) {
  const xEdge = i => {
    if (i <= 0) return sx(cols[0]) - 14;
    if (i >= cols.length) return sx(cols[cols.length - 1]) + 14;
    return sx((cols[i - 1] + cols[i]) / 2);
  };
  const yEdge = i => {
    if (i <= 0) return rowY(0) - 14;
    if (i >= rows.length) return rowY(rows.length - 1) + 14;
    return rowY(i - 0.5);
  };
  rows.forEach((row, r) => {
    row.forEach((v, c) => {
      mk('rect', g, {
        x: xEdge(c), y: yEdge(r),
        width: xEdge(c + 1) - xEdge(c) + .5,
        height: yEdge(r + 1) - yEdge(r) + .5,
        fill: colorFor(v), 'shape-rendering': 'crispEdges'
      }, name);
    });
  });
}
function colorbar(g, x, w, yTop, yBot, labelX, gradId) {
  const grad = mk('linearGradient', g, {id: gradId, x1: 0, y1: 1, x2: 0, y2: 0}, 'colorbar-gradient');
  colorStops.forEach((s, i) => {
    mk('stop', grad, {offset: s / .8, 'stop-color': colorHexes[i]}, 'colorbar-stop');
  });
  mk('rect', g, {x, y: yTop, width: w, height: yBot - yTop, fill: 'url(#' + gradId + ')', stroke: '#333', 'stroke-width': .8}, 'colorbar-scale');
  colorbarLabels.forEach((lab, i) => {
    const y = yTop + (yBot - yTop) * i / (colorbarLabels.length - 1);
    label(g, labelX, y + 2, 'start', lab, 5.2, 'colorbar-label');
  });
}

/* ---------- scales ---------- */
const ax = v => 57 + (v + 2) * (250 / 6), ay = v => 226.7 - v * 2.705;
const bx = v => 380.7 + (v + 2) * (249.3 / 6), by = v => 226.7 - v * 3.56;
const cx = v => 730.7 + (v - 1.3) * 624, cy = v => 185 - Math.log10(v) * 42.7;
const dx = v => 71.3 + (v - 400) * 0.2767, dTop = v => 362 - v, dRow = i => 385 + i * 10.44;
const ex = v => 395.3 + (v - 400) * 0.2793, eTop = v => 363 - v, eRow = i => 386 + i * 10.44;
const fx = v => 714.3 + (v - 400) * 0.2933, fy = v => 480 - v;
const gx = v => 71.7 + (v - 400) * 0.2928, gy = v => 735.3 - v;
const hx = v => 381.7 + v * 1.385, hy = v => 655.3 - v * 0.405;
const ix1 = v => 699 + v * 0.683, ix2 = v => 842 + (v - 1840) * 0.6625, iy = v => 735.7 - (v - 0.6) * 168;

/* ---------- draw: a ---------- */
[a120, a125, a130, a135, a140, a145, a150, a155, a160].forEach((vals, s) => {
  dots($('marks-a'), ax, ay, logFreq, vals, 'url(#s' + s + ')', 2.3, 'phase-point-' + voltageNames[s]);
});
logXAxis($('axes-a'), ax, 226.7, 243.5, freqExpTicks);
linYAxis($('axes-a'), ay, 57, 50, aYTicks, 11.5, null, 5, 5, 75);

/* ---------- draw: b ---------- */
[b120, b125, b130, b135, b140, b145, b150, b155, b160].forEach((vals, s) => {
  dots($('marks-b'), bx, by, logFreq, vals, 'url(#s' + s + ')', 2.3, 'phase-point-' + voltageNames[s]);
});
logXAxis($('axes-b'), bx, 226.7, 243.5, freqExpTicks);
linYAxis($('axes-b'), by, 380.7, 374, bYTicks, 11.5, null, 5, 5, 55);

/* ---------- draw: c ---------- */
dots($('marks-c'), cx, cy, morPotential, morRct, 'url(#orangeDot)', 3, 'mor-point');
dots($('marks-c'), cx, cy, oerPotential, oerRct, 'url(#blueDot)', 3, 'oer-point');
linXAxis($('axes-c'), cx, 228, 243.5, cXTicks, 11.5, v => v.toFixed(1), 0.1, 1.25, 1.65);
cYExpTicks.forEach(e => {
  const y = 185 - e * 42.7;
  tick($('axes-c'), 699, y, 694.5, y, 1.2, 'y-tick');
  powerLabel($('axes-c'), 689.5, y + 4.5, 'end', String(e), 11.5, 'y-tick-label');
  for (let k = 2; k < 10; k++) {
    const m = 185 - (e + Math.log10(k)) * 42.7;
    if (m > 16) tick($('axes-c'), 699, m, 696.5, m, 0.9, 'y-minor-tick');
  }
});

/* ---------- draw: d ---------- */
curve($('marks-d'), dx, dTop, dShift, d160, '#48689a', 1.4, 'spectrum-line-160');
curve($('marks-d'), dx, dTop, dShift, d130, '#dd1c1c', 1.4, 'spectrum-line-130');
linXAxis($('axes-d'), dx, 362, 378, ramanTopTicks, 12, null, 100, 500, 1100);
ramanTopTicks.forEach(v => tick($('axes-d'), dx(v), 385, dx(v), 381.5, 1.1, 'heatmap-top-tick'));
potentialRowIndex.forEach((r, i) => {
  tick($('axes-d'), 57, dRow(r), 52.5, dRow(r), 1.2, 'potential-tick');
  label($('axes-d'), 53, dRow(r) + 4.3, 'end', potentialRowLabels[i], 12, 'potential-tick-label');
});
heatmap($('heat-d'), heatColsD, heatRowsD, dx, dRow, 'heat-cell');
colorbar($('bar-d'), 311.3, 13, 384, 479, 328, 'cb-d');

/* ---------- draw: e ---------- */
curve($('marks-e'), ex, eTop, eShift, e160, '#48689a', 1.4, 'spectrum-line-160');
curve($('marks-e'), ex, eTop, eShift, e130, '#e8141c', 1.4, 'spectrum-line-130');
linXAxis($('axes-e'), ex, 363, 378.3, ramanTopTicks, 12, null, 100, 500, 1100);
ramanTopTicks.forEach(v => tick($('axes-e'), ex(v), 386, ex(v), 382.5, 1.1, 'heatmap-top-tick'));
potentialRowIndex.forEach((r, i) => {
  tick($('axes-e'), 380.7, eRow(r), 376.2, eRow(r), 1.2, 'potential-tick');
  label($('axes-e'), 378, eRow(r) + 4.3, 'end', potentialRowLabels[i], 12, 'potential-tick-label');
});
heatmap($('heat-e'), heatColsE, heatRowsE, ex, eRow, 'heat-cell');
colorbar($('bar-e'), 637.3, 13.4, 385.5, 480.5, 654, 'cb-e');

/* ---------- draw: f ---------- */
[fOcp, f110, f120, f130, f135, f140, f145, f150, f155, f160].forEach((vals, s) => {
  curve($('marks-f'), fx, fy, fShift, vals, ramanSeriesColors[s], 1.7, 'raman-line-' + ramanSeriesNames[s]);
});
linXAxis($('axes-f'), fx, 480, 496, ramanWideTicks, 12, null, 100, 500, 1100);

/* ---------- draw: g ---------- */
[gOcp, g110, g120, g130, g135, g140, g145, g150, g155, g160].forEach((vals, s) => {
  curve($('marks-g'), gx, gy, gShift, vals, ramanSeriesColors[s], 1.7, 'raman-line-' + ramanSeriesNames[s]);
});
linXAxis($('axes-g'), gx, 735.3, 750, ramanWideTicks, 12, null, 100, 500, 1100);

/* ---------- draw: h ---------- */
dots($('marks-h'), hx, hy, hTimeOn, hKohOn, 'url(#blackDot)', 2.2, 'koh-point');
dots($('marks-h'), hx, hy, hTimeOff, hKohOff, 'url(#blackDot)', 2.2, 'koh-point');
dots($('marks-h'), hx, hy, hTimeOn, hInjectOn, 'url(#lilacDot)', 2.4, 'inject-point');
dots($('marks-h'), hx, hy, hTimeOff, hInjectOff, 'url(#lilacDot)', 2.4, 'inject-point');
dots($('marks-h'), hx, hy, hTimeOn, hMixOn, 'url(#redDot)', 2.4, 'mix-point');
dots($('marks-h'), hx, hy, hMixTime, hMixOff, 'url(#redDot)', 2.4, 'mix-point');
linXAxis($('axes-h'), hx, 736, 751, hXTicks, 12, null, 20, 10, 170);
linYAxis($('axes-h'), hy, 381.7, 375, hYTicks, 12, null, 100, -150, 250);

/* ---------- draw: i ---------- */
dots($('marks-i'), ix1, iy, iTimeBefore, iCobaltBefore, 'url(#lilacDot)', 2.3, 'cobalt-point');
dots($('marks-i'), ix1, iy, iTimeBefore, iSiliconBefore, 'url(#redDot)', 2.3, 'silicon-point');
dots($('marks-i'), ix2, iy, iTimeAfter, iCobaltAfter, 'url(#lilacDot)', 2.3, 'cobalt-point');
dots($('marks-i'), ix2, iy, iTimeAfter, iSiliconAfter, 'url(#redDot)', 2.3, 'silicon-point');
linXAxis($('axes-i'), ix1, 735.7, 751, iXTicksBefore, 12, null, 40, 20, 140);
linXAxis($('axes-i'), ix2, 735.7, 751, iXTicksAfter, 12, null, 40, 1860, 1980);
linYAxis($('axes-i'), iy, 699, 694, iYTicks, 12, v => v.toFixed(1), 0.2, 0.7, 1.7);
</script>
</body>
</html>
